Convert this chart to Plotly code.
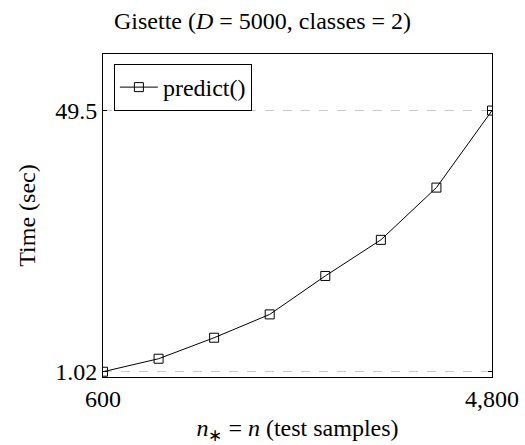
import plotly.graph_objects as go

# Data
n_samples = [600, 1200, 1800, 2400, 3000, 3600, 4200, 4800]
predict_time = [1.02, 3.43, 7.33, 11.66, 18.8, 25.5, 35.2, 49.5]
x_tickvals = [600, 4800]
x_ticktext = ["600", "4,800"]
y_tickvals = [1.02, 49.5]
y_ticktext = ["1.02", "49.5"]

FONT = "Liberation Serif"
FS = 24
W, H = 525, 445
ml, mr, mt, mb = 103, 33, 54, 68

fig = go.Figure()
fig.add_trace(go.Scatter(
    x=n_samples, y=predict_time, mode="lines+markers", name="predict()",
    line=dict(color="black", width=1),
    marker=dict(symbol="square-open", size=9, color="black", line=dict(width=1)),
))

fig.update_layout(
    width=W, height=H,
    margin=dict(l=ml, r=mr, t=mt, b=mb, autoexpand=False),
    paper_bgcolor="white", plot_bgcolor="white",
    font=dict(family=FONT, size=FS, color="black"),
    title=dict(text="Gisette (<i>D</i> = 5000, classes = 2)", x=0.5, xanchor="center",
               y=1 - 21 / H, yanchor="middle", yref="container",
               font=dict(family=FONT, size=FS, color="black")),
    showlegend=True,
    legend=dict(x=0.028, y=0.969, xanchor="left", yanchor="top",
                bgcolor="white", bordercolor="black", borderwidth=1,
                font=dict(family=FONT, size=FS), itemwidth=38,
                tracegroupgap=0),
)

fig.update_xaxes(
    range=[600, 4800], tickvals=x_tickvals, ticktext=x_ticktext,
    showline=True, linecolor="black", linewidth=1, mirror="allticks",
    ticks="inside", ticklen=4, tickcolor="black",
    showgrid=False, zeroline=False, automargin=False,
    title=dict(text="<i>n</i><sub>∗</sub> = <i>n</i> (test samples)", standoff=14,
               font=dict(family=FONT, size=FS)),
    tickfont=dict(family=FONT, size=FS),
)
fig.update_yaxes(
    range=[0.04, 60.0], tickvals=y_tickvals, ticktext=y_ticktext,
    showline=True, linecolor="black", linewidth=1, mirror="allticks",
    ticks="inside", ticklen=4, tickcolor="black",
    showgrid=True, gridcolor="#c8c8c8", griddash="dash", gridwidth=1,
    zeroline=False, automargin=False,
    title=dict(text="Time (sec)", standoff=12, font=dict(family=FONT, size=FS)),
    tickfont=dict(family=FONT, size=FS),
)

fig.write_html("out.html")
